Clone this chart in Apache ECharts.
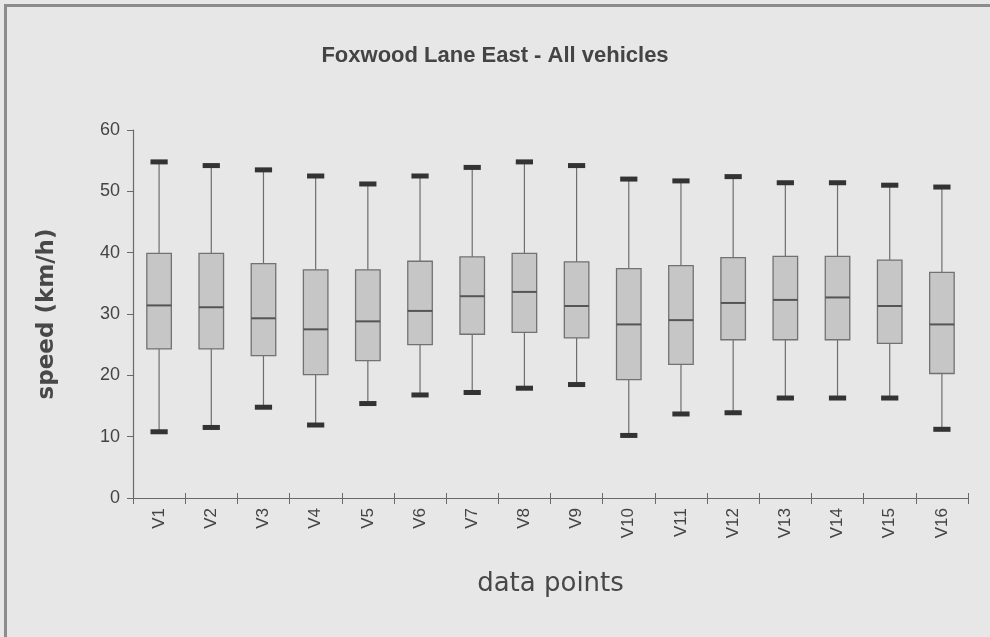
<!DOCTYPE html>
<html>
<head>
<meta charset="utf-8">
<title>Foxwood Lane East - All vehicles</title>
<script src="https://cdn.jsdelivr.net/npm/echarts@6/dist/echarts.min.js"></script>
<style>
  html, body { margin: 0; padding: 0; background: #e7e7e7; }
  #chart { width: 990px; height: 637px; }
</style>
</head>
<body>
<div id="chart"></div>
<script>
// Speed distribution per data point (km/h)
const categories = ['V1', 'V2', 'V3', 'V4', 'V5', 'V6', 'V7', 'V8', 'V9', 'V10', 'V11', 'V12', 'V13', 'V14', 'V15', 'V16'];
const minSpeed    = [10.8, 11.5, 14.8, 11.9, 15.4, 16.8, 17.2, 17.9, 18.5, 10.2, 13.7, 13.9, 16.3, 16.3, 16.3, 11.2];
const lowerQuart  = [24.3, 24.3, 23.2, 20.1, 22.4, 25.0, 26.7, 27.0, 26.1, 19.3, 21.8, 25.8, 25.8, 25.8, 25.2, 20.3];
const medianSpeed = [31.4, 31.1, 29.3, 27.5, 28.8, 30.5, 32.9, 33.6, 31.3, 28.3, 29.0, 31.8, 32.3, 32.7, 31.3, 28.3];
const upperQuart  = [39.9, 39.9, 38.2, 37.2, 37.2, 38.6, 39.3, 39.9, 38.5, 37.4, 37.9, 39.2, 39.4, 39.4, 38.8, 36.8];
const maxSpeed    = [54.8, 54.2, 53.5, 52.5, 51.2, 52.5, 53.9, 54.8, 54.2, 52.0, 51.7, 52.4, 51.4, 51.4, 51.0, 50.7];
const yTicks = { min: 0, max: 60, interval: 10 };

const boxData = categories.map((c, i) => [i, minSpeed[i], lowerQuart[i], medianSpeed[i], upperQuart[i], maxSpeed[i]]);

function renderBox(params, api) {
  const idx = api.value(0);
  const pMin = api.coord([idx, api.value(1)]);
  const pQ1 = api.coord([idx, api.value(2)]);
  const pMed = api.coord([idx, api.value(3)]);
  const pQ3 = api.coord([idx, api.value(4)]);
  const pMax = api.coord([idx, api.value(5)]);
  const bandW = api.size([1, 0])[0];
  const boxW = bandW * 0.47;
  const capW = bandW * 0.33;
  const capH = 5;
  const x = pMed[0];
  const lineStyle = { stroke: '#6e6e6e', lineWidth: 1.2 };
  return {
    type: 'group',
    children: [
      { type: 'line', shape: { x1: x, y1: pMax[1], x2: x, y2: pQ3[1] }, style: lineStyle },
      { type: 'line', shape: { x1: x, y1: pQ1[1], x2: x, y2: pMin[1] }, style: lineStyle },
      { type: 'rect', shape: { x: x - boxW / 2, y: pQ3[1], width: boxW, height: pQ1[1] - pQ3[1] },
        style: { fill: '#c6c6c6', stroke: '#727272', lineWidth: 1.3 } },
      { type: 'line', shape: { x1: x - boxW / 2, y1: pMed[1], x2: x + boxW / 2, y2: pMed[1] },
        style: { stroke: '#555', lineWidth: 2 } },
      { type: 'rect', shape: { x: x - capW / 2, y: pMax[1] - capH / 2, width: capW, height: capH },
        style: { fill: '#333' } },
      { type: 'rect', shape: { x: x - capW / 2, y: pMin[1] - capH / 2, width: capW, height: capH },
        style: { fill: '#333' } }
    ]
  };
}

const chart = echarts.init(document.getElementById('chart'), null, { renderer: 'canvas' });
chart.setOption({
  backgroundColor: '#e7e7e7',
  animation: false,
  title: {
    text: 'Foxwood Lane East - All vehicles',
    left: 'center',
    top: 40,
    textStyle: { fontFamily: 'Liberation Sans', fontSize: 22, fontWeight: 'bold', color: '#444' }
  },
  graphic: [
    { type: 'rect', shape: { x: 4, y: 4, width: 3, height: 640 }, style: { fill: '#8c8c8c' } },
    { type: 'rect', shape: { x: 4, y: 4, width: 990, height: 3 }, style: { fill: '#8c8c8c' } }
  ],
  grid: { left: 133, right: 22, top: 130, bottom: 139 },
  xAxis: [{
    type: 'category',
    data: categories,
    name: 'data points',
    nameLocation: 'middle',
    nameGap: 73,
    nameTextStyle: { fontFamily: 'DejaVu Sans', fontSize: 26, color: '#484848' },
    axisLine: { lineStyle: { color: '#6a6a6a', width: 1.2 } },
    axisTick: { show: true, length: 6, lineStyle: { color: '#6a6a6a' } },
    axisLabel: { rotate: 90, margin: 10, fontFamily: 'Liberation Sans', fontSize: 17, color: '#444' }
  }, {
    // inner half of the category ticks, so they cross the axis line
    type: 'category',
    data: categories,
    position: 'bottom',
    axisLine: { show: false },
    axisTick: { show: true, inside: true, length: 5, lineStyle: { color: '#6a6a6a' } },
    axisLabel: { show: false }
  }],
  yAxis: {
    type: 'value',
    min: yTicks.min,
    max: yTicks.max,
    interval: yTicks.interval,
    name: 'speed (km/h)',
    nameLocation: 'middle',
    nameGap: 74,
    nameTextStyle: { fontFamily: 'DejaVu Sans', fontSize: 23, fontWeight: 'bold', color: '#484848' },
    axisLine: { show: true, lineStyle: { color: '#6a6a6a', width: 1.2 } },
    axisTick: { show: true, length: 6, lineStyle: { color: '#6a6a6a' } },
    splitLine: { show: false },
    axisLabel: { margin: 13, fontFamily: 'Liberation Sans', fontSize: 18, color: '#444' }
  },
  series: [{
    type: 'custom',
    renderItem: renderBox,
    encode: { x: 0, y: [1, 2, 3, 4, 5] },
    data: boxData
  }]
});
</script>
</body>
</html>
